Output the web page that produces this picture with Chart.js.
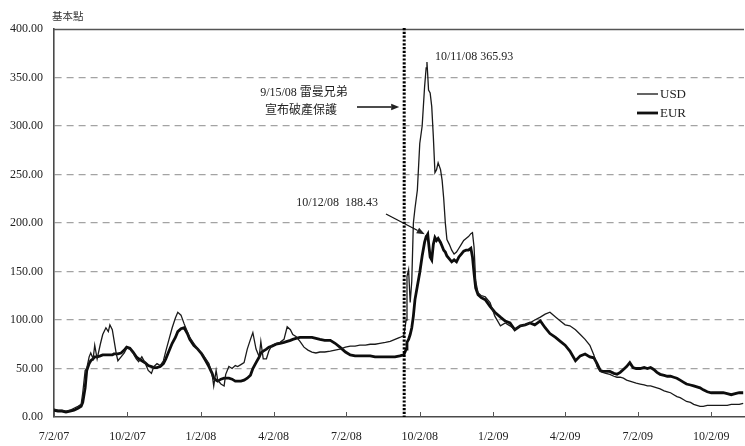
<!DOCTYPE html>
<html>
<head>
<meta charset="utf-8">
<script src="https://cdn.jsdelivr.net/npm/chart.js@4.4.1/dist/chart.umd.min.js"></script>
<style>
  html, body { margin: 0; padding: 0; background: #fff; }
  #wrap { width: 745px; height: 446px; position: relative; }
</style>
</head>
<body>
<div id="wrap"><canvas id="chart" width="745" height="446"></canvas></div>
<script>
// Quarterly axis labels (M/D/YY)
const tickLabels = ['7/2/07', '10/2/07', '1/2/08', '4/2/08', '7/2/08', '10/2/08', '1/2/09', '4/2/09', '7/2/09', '10/2/09'];

// Observation dates
const dates = [
  '2007-07-02','2007-07-07','2007-07-12','2007-07-17','2007-07-22','2007-07-27','2007-08-01','2007-08-05','2007-08-07','2007-08-10',
  '2007-08-12','2007-08-15','2007-08-17','2007-08-20','2007-08-22','2007-08-25','2007-08-29','2007-09-01','2007-09-05','2007-09-08',
  '2007-09-10','2007-09-13','2007-09-15','2007-09-18','2007-09-20','2007-09-24','2007-09-28','2007-10-01','2007-10-05','2007-10-09',
  '2007-10-13','2007-10-16','2007-10-20','2007-10-24','2007-10-28','2007-11-01','2007-11-04','2007-11-08','2007-11-12','2007-11-16',
  '2007-11-19','2007-11-23','2007-11-27','2007-12-01','2007-12-04','2007-12-08','2007-12-12','2007-12-16','2007-12-19','2007-12-24',
  '2007-12-29','2008-01-03','2008-01-08','2008-01-12','2008-01-16','2008-01-18','2008-01-21','2008-01-23','2008-01-27','2008-01-31',
  '2008-02-02','2008-02-06','2008-02-10','2008-02-14','2008-02-17','2008-02-21','2008-02-25','2008-02-29','2008-03-04','2008-03-07',
  '2008-03-11','2008-03-15','2008-03-17','2008-03-20','2008-03-24','2008-03-27','2008-03-31','2008-04-05','2008-04-10','2008-04-15',
  '2008-04-19','2008-04-23','2008-04-26','2008-04-30','2008-05-05','2008-05-10','2008-05-15','2008-05-20','2008-05-25','2008-05-30',
  '2008-06-05','2008-06-12','2008-06-18','2008-06-24','2008-07-01','2008-07-07','2008-07-13','2008-07-19','2008-07-26','2008-08-01',
  '2008-08-07','2008-08-13','2008-08-20','2008-08-26','2008-09-01','2008-09-07','2008-09-12','2008-09-15','2008-09-16','2008-09-18',
  '2008-09-20','2008-09-22','2008-09-24','2008-09-26','2008-09-29','2008-10-02','2008-10-05','2008-10-08','2008-10-10','2008-10-11',
  '2008-10-12','2008-10-13','2008-10-15','2008-10-17','2008-10-19','2008-10-21','2008-10-23','2008-10-25','2008-10-28','2008-10-30',
  '2008-11-01','2008-11-03','2008-11-05','2008-11-08','2008-11-11','2008-11-14','2008-11-17','2008-11-20','2008-11-23','2008-11-26',
  '2008-11-29','2008-12-02','2008-12-05','2008-12-07','2008-12-09','2008-12-11','2008-12-14','2008-12-18','2008-12-23','2008-12-29',
  '2009-01-04','2009-01-11','2009-01-17','2009-01-23','2009-01-29','2009-02-05','2009-02-11','2009-02-17','2009-02-23','2009-03-02',
  '2009-03-08','2009-03-14','2009-03-21','2009-03-27','2009-04-02','2009-04-08','2009-04-15','2009-04-21','2009-04-27','2009-05-03',
  '2009-05-08','2009-05-12','2009-05-16','2009-05-19','2009-05-23','2009-05-28','2009-06-02','2009-06-06','2009-06-10','2009-06-14',
  '2009-06-18','2009-06-22','2009-06-26','2009-06-30','2009-07-05','2009-07-10','2009-07-14','2009-07-18','2009-07-22','2009-07-26',
  '2009-07-30','2009-08-04','2009-08-08','2009-08-12','2009-08-16','2009-08-20','2009-08-24','2009-08-28','2009-09-01','2009-09-06',
  '2009-09-10','2009-09-14','2009-09-18','2009-09-22','2009-09-27','2009-10-02','2009-10-07','2009-10-12','2009-10-17','2009-10-22',
  '2009-10-27','2009-11-01','2009-11-06','2009-11-11'
];

// USD spread, basis points
const usd = [
  8, 7, 7, 6, 7, 9, 11, 13, 25, 48,
  50, 62, 66, 60, 74, 60, 75, 85, 92, 88,
  95, 90, 80, 65, 58, 62, 66, 71, 70, 66,
  60, 57, 62, 56, 48, 45, 52, 55, 53, 58,
  68, 80, 92, 102, 108, 105, 96, 88, 82, 76,
  70, 66, 60, 55, 44, 32, 48, 38, 34, 32,
  44, 52, 50, 53, 52, 54, 56, 70, 80, 87,
  70, 62, 78, 60, 60, 68, 74, 76, 77, 80,
  93, 90, 85, 83, 78, 72, 69, 67, 66, 67,
  67, 68, 69, 70, 72, 73, 73, 74, 74, 75,
  75, 76, 77, 78, 80, 82, 84, 100, 145, 152,
  118, 140, 200, 215, 234, 282, 300, 340, 360, 365.93,
  352, 337, 334, 320, 289, 252, 255, 262, 255, 244,
  225, 200, 183, 178, 172, 168, 170, 174, 178, 182,
  184, 186, 189, 190, 175, 140, 128, 125, 124, 118,
  104, 94, 97, 94, 90, 94, 95, 97, 100, 103,
  106, 108, 103, 99, 95, 94, 90, 85, 80, 74,
  64, 52, 47, 46, 45, 44, 42, 41, 41, 40,
  38, 37, 36, 35, 34, 33, 32, 32, 31, 30,
  29, 27, 26, 25, 23, 21, 20, 18, 16, 15,
  13, 12, 11, 11, 12, 12, 12, 12, 12, 12,
  13, 13, 13, 14
];

// EUR spread, basis points
const eur = [
  7, 6, 6, 5, 6, 7, 9, 11, 15, 30,
  48, 55, 58, 60, 62, 62, 63, 64, 64, 64,
  64, 64, 65, 65, 65, 66, 69, 72, 71, 67,
  62, 60, 58, 56, 53, 52, 51, 51, 52, 55,
  60, 68, 76, 82, 88, 91, 92, 86, 80, 74,
  70, 65, 58, 52, 45, 40, 38, 37, 39, 40,
  40, 40, 39, 37, 37, 37, 38, 40, 43, 50,
  56, 62, 66, 68, 70, 72, 73, 75, 76, 77,
  78, 79, 80, 81, 82, 82, 82, 82, 81, 80,
  79, 79, 76, 72, 67, 64, 63, 63, 63, 63,
  62, 62, 62, 62, 62, 63, 64, 70, 77, 80,
  85, 92, 104, 121, 135, 149, 166, 180, 186, 187,
  188.43, 180, 165, 162, 178, 185, 182, 184, 180, 176,
  172, 170, 166, 163, 160, 162, 160, 165, 168, 171,
  172, 172, 174, 165, 148, 133, 126, 123, 121, 114,
  108, 103, 99, 97, 90, 94, 95, 97, 95, 99,
  92, 86, 82, 78, 74, 68, 58, 63, 65, 62,
  61, 55, 48, 47, 47, 47, 45, 44, 46, 49,
  52, 56, 51, 50, 50, 51, 50, 51, 49, 46,
  44, 43, 42, 42, 41, 40, 38, 36, 34, 33,
  32, 31, 30, 28, 26, 25, 25, 25, 25, 24,
  23, 24, 25, 25
];

const seriesNames = ['USD', 'EUR'];
const yAxisTitle = '基本點';
const eventDate = '9/15/08';
const eventLines = ['雷曼兄弟', '宣布破產保護'];

// ---- date helpers ----
function toUTC(s) {
  if (s.indexOf('-') >= 0) {
    const [y, m, d] = s.split('-').map(Number);
    return Date.UTC(y, m - 1, d);
  }
  const [m, d, y] = s.split('/').map(Number);
  return Date.UTC(2000 + y, m - 1, d);
}
const origin = toUTC(tickLabels[0]);
const dayOf = s => Math.round((toUTC(s) - origin) / 864e5);
function shortDate(s) {
  const [y, m, d] = s.split('-').map(Number);
  return m + '/' + d + '/' + String(y).slice(2);
}

const tickDays = tickLabels.map(dayOf);
const xMax = dayOf(dates[dates.length - 1]) + 1;

const usdPoints = dates.map((d, i) => ({ x: dayOf(d), y: usd[i] }));
const eurPoints = dates.map((d, i) => ({ x: dayOf(d), y: eur[i] }));

const usdPeakIdx = usd.indexOf(Math.max(...usd));
const eurPeakIdx = eur.indexOf(Math.max(...eur));

const SERIF = "'Liberation Serif', 'Times New Roman', 'Noto Sans CJK TC', serif";
const MIXED = "'Liberation Serif', 'Noto Sans CJK TC', serif";

function arrow(ctx, x1, y1, x2, y2) {
  const ang = Math.atan2(y2 - y1, x2 - x1);
  const len = 8, half = 3.2;
  const bx = x2 - len * Math.cos(ang), by = y2 - len * Math.sin(ang);
  ctx.beginPath();
  ctx.moveTo(x1, y1);
  ctx.lineTo(bx, by);
  ctx.stroke();
  ctx.beginPath();
  ctx.moveTo(x2, y2);
  ctx.lineTo(bx + half * Math.sin(ang), by - half * Math.cos(ang));
  ctx.lineTo(bx - half * Math.sin(ang), by + half * Math.cos(ang));
  ctx.closePath();
  ctx.fill();
}

const overlay = {
  id: 'overlay',
  afterDatasetsDraw(chart) {
    const { ctx, chartArea: a, scales: { x, y } } = chart;
    ctx.save();

    // top frame line
    ctx.strokeStyle = '#555';
    ctx.lineWidth = 1.3;
    ctx.beginPath();
    ctx.moveTo(a.left, Math.round(a.top) + 0.5);
    ctx.lineTo(a.right, Math.round(a.top) + 0.5);
    ctx.stroke();

    // inner tick marks on the date axis
    ctx.strokeStyle = '#555';
    ctx.lineWidth = 1;
    tickDays.forEach(v => {
      const px = Math.round(x.getPixelForValue(v)) + 0.5;
      ctx.beginPath();
      ctx.moveTo(px, a.bottom);
      ctx.lineTo(px, a.bottom - 5);
      ctx.stroke();
    });

    // event marker: dotted vertical line
    const ex = x.getPixelForValue(dayOf(eventDate)) - 2;
    ctx.strokeStyle = '#000';
    ctx.lineWidth = 3;
    ctx.setLineDash([2.2, 1.6]);
    ctx.beginPath();
    ctx.moveTo(ex, a.top - 1);
    ctx.lineTo(ex, a.bottom);
    ctx.stroke();
    ctx.setLineDash([]);

    ctx.fillStyle = '#222';
    ctx.strokeStyle = '#111';
    ctx.lineWidth = 1.3;

    // event caption and arrow
    ctx.font = '12px ' + MIXED;
    ctx.textAlign = 'center';
    ctx.textBaseline = 'middle';
    ctx.fillText(eventDate + ' ' + eventLines[0], 304, 93);
    ctx.fillText(eventLines[1], 301, 111);
    arrow(ctx, 357, 107, ex - 5, 107);

    // USD peak label
    const ux = x.getPixelForValue(usdPoints[usdPeakIdx].x);
    const uy = y.getPixelForValue(usd[usdPeakIdx]);
    ctx.font = '12px ' + SERIF;
    ctx.textAlign = 'left';
    ctx.fillText(shortDate(dates[usdPeakIdx]) + ' ' + usd[usdPeakIdx].toFixed(2), ux + 8, uy - 5);

    // EUR peak label with arrow
    const qx = x.getPixelForValue(eurPoints[eurPeakIdx].x);
    const qy = y.getPixelForValue(eur[eurPeakIdx]);
    ctx.textAlign = 'right';
    ctx.fillText(shortDate(dates[eurPeakIdx]) + '  ' + eur[eurPeakIdx].toFixed(2), 378, 203);
    arrow(ctx, 386, 214, qx - 3, qy);

    // legend
    const lx = 637, ly = [94, 113], widths = [1.3, 2.8];
    ctx.font = '13px ' + SERIF;
    ctx.textAlign = 'left';
    seriesNames.forEach((n, i) => {
      ctx.strokeStyle = '#111';
      ctx.lineWidth = widths[i];
      ctx.beginPath();
      ctx.moveTo(lx, ly[i]);
      ctx.lineTo(lx + 21, ly[i]);
      ctx.stroke();
      ctx.fillText(n, lx + 23, ly[i] + 1);
    });

    // value axis unit
    ctx.font = '10.5px "Noto Sans CJK TC", sans-serif';
    ctx.textAlign = 'left';
    ctx.fillStyle = '#333';
    ctx.fillText(yAxisTitle, 52, 16);

    ctx.restore();
  }
};

new Chart(document.getElementById('chart'), {
  type: 'line',
  data: {
    datasets: [
      { label: seriesNames[0], data: usdPoints, borderColor: '#1a1a1a', borderWidth: 1.3, pointRadius: 0, tension: 0, fill: false },
      { label: seriesNames[1], data: eurPoints, borderColor: '#0d0d0d', borderWidth: 2.8, pointRadius: 0, tension: 0, fill: false }
    ]
  },
  options: {
    responsive: false,
    animation: false,
    devicePixelRatio: 1,
    layout: { padding: { left: 0, right: 1, top: 29, bottom: 0 } },
    plugins: { legend: { display: false }, tooltip: { enabled: false } },
    scales: {
      x: {
        type: 'linear',
        min: 0,
        max: xMax,
        afterBuildTicks: s => { s.ticks = tickDays.map(v => ({ value: v })); },
        afterFit: s => { s.height = 29; },
        grid: { display: false, drawTicks: false },
        border: { display: true, color: '#4a4a4a', width: 1.6 },
        ticks: {
          autoSkip: false, maxRotation: 0, padding: 13, color: '#222',
          font: { family: SERIF, size: 12 },
          callback: (v, i) => tickLabels[i]
        }
      },
      y: {
        min: 0,
        max: 400,
        afterFit: s => { s.width = 54; },
        grid: {
          drawTicks: false,
          lineWidth: 1.2,
          color: c => (c.tick && (c.tick.value === 0 || c.tick.value === 400)) ? 'rgba(0,0,0,0)' : '#a3a3a3'
        },
        border: { display: true, color: '#4a4a4a', width: 1.6, dash: [7, 5] },
        ticks: {
          stepSize: 50, padding: 11, color: '#222',
          font: { family: SERIF, size: 12 },
          callback: v => v.toFixed(2)
        }
      }
    }
  },
  plugins: [overlay]
});
</script>
</body>
</html>
